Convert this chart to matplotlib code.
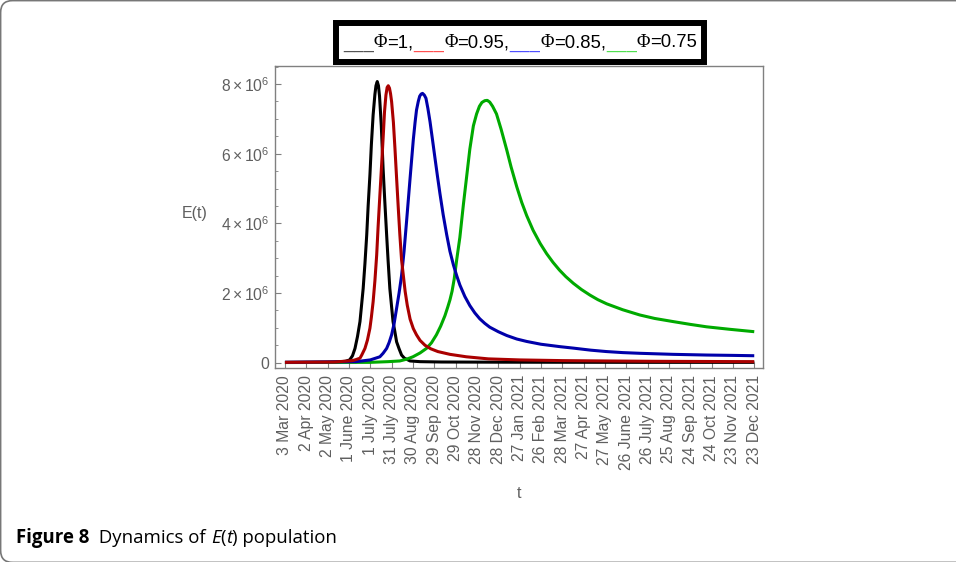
import matplotlib
matplotlib.use("Agg")
import matplotlib.pyplot as plt
from matplotlib.patches import Rectangle, FancyBboxPatch
from matplotlib.offsetbox import TextArea, HPacker, AnchoredOffsetbox
from matplotlib.ticker import FixedLocator, MultipleLocator, FuncFormatter

plt.rcParams["font.family"] = ["Liberation Sans", "DejaVu Sans"]
plt.rcParams["mathtext.fontset"] = "custom"
plt.rcParams["mathtext.rm"] = "Liberation Sans"
plt.rcParams["mathtext.it"] = "Liberation Sans:italic"
plt.rcParams["mathtext.default"] = "regular"

# days since 3 Mar 2020, E(t) in millions
black_days = [0, 60, 75, 85, 91, 95, 98.5, 102, 105.5, 107.5, 110, 112.5, 115, 117, 119.5,
              121.5, 124, 126.5, 128, 129.8, 131.5, 133, 135.5, 138, 140.5, 143, 145, 147.5,
              150, 152, 154.5, 157, 160.5, 164, 168, 176, 190, 220, 300, 400, 500, 660]
black_vals = [0.01, 0.015, 0.025, 0.04, 0.08, 0.2, 0.41, 0.75, 1.18, 1.6, 2.13, 2.85, 3.67,
              4.5, 5.39, 6.25, 7.11, 7.7, 7.95, 8.07, 7.95, 7.65, 6.8, 5.58, 4.6, 3.67, 2.95,
              2.13, 1.6, 1.18, 0.9, 0.6, 0.4, 0.22, 0.13, 0.05, 0.03, 0.02, 0.015, 0.012, 0.01,
              0.01]

red_days = [0, 70, 95, 100, 105.5, 108, 112.5, 116, 119.5, 121.5, 124, 126.5, 129, 131, 133.5,
            136, 138.3, 140, 142, 143.7, 145.3, 147, 148.5, 150, 152.5, 154.7, 157, 159.4, 161.6,
            164, 166.5, 169, 172, 176, 180.5, 185, 190, 197, 205, 215, 232, 255, 286, 330, 390,
            450, 520, 590, 660]
red_vals = [0.01, 0.02, 0.06, 0.09, 0.13, 0.22, 0.41, 0.65, 0.99, 1.3, 1.75, 2.35, 3.09, 3.9,
            4.81, 5.7, 6.54, 7.2, 7.68, 7.9, 7.95, 7.88, 7.72, 7.49, 6.9, 6.15, 5.3, 4.43, 3.67,
            2.95, 2.5, 2.05, 1.65, 1.25, 0.98, 0.8, 0.64, 0.5, 0.4, 0.32, 0.24, 0.17, 0.11, 0.08,
            0.06, 0.05, 0.04, 0.035, 0.03]

blue_days = [0, 100, 120, 133.5, 138, 143, 146.5, 150, 153.5, 157, 160.5, 164, 167.5, 171, 176,
             180.5, 183, 185, 187.5, 189.5, 191.5, 193.5, 196, 198.3, 201, 204, 207.5, 211,
             214.5, 218, 222.5, 227.5, 232, 237, 241.5, 246, 253, 260, 267, 274, 281, 288, 300,
             312, 326, 340, 360, 387, 405, 430, 452, 475, 499, 546, 593, 630, 660]
blue_vals = [0.01, 0.03, 0.08, 0.17, 0.27, 0.41, 0.58, 0.8, 1.12, 1.56, 2.0, 2.5, 3.2, 4.05, 5.3,
             6.4, 6.9, 7.25, 7.5, 7.65, 7.71, 7.73, 7.68, 7.59, 7.3, 6.92, 6.4, 5.87, 5.35, 4.85,
             4.25, 3.67, 3.2, 2.8, 2.5, 2.23, 1.9, 1.64, 1.43, 1.26, 1.13, 1.02, 0.89, 0.78,
             0.68, 0.61, 0.53, 0.46, 0.42, 0.36, 0.32, 0.29, 0.27, 0.24, 0.22, 0.21, 0.20]

green_days = [0, 120, 145, 161.5, 171, 180, 190, 199, 206, 213, 219, 225, 229, 232, 235, 238,
              241.5, 246, 251, 255, 260, 265, 269.5, 273.5, 277, 281, 284.5, 288, 292, 297.5,
              304, 312, 318, 326, 333, 340, 349, 359, 368, 377, 386, 395, 405.5, 417, 429, 440,
              452.5, 475, 499, 520, 546, 570, 593, 625, 660]
green_vals = [0.005, 0.01, 0.03, 0.05, 0.1, 0.17, 0.28, 0.41, 0.57, 0.8, 1.05, 1.35, 1.6, 1.8,
              2.05, 2.4, 2.95, 3.6, 4.55, 5.25, 6.13, 6.8, 7.14, 7.36, 7.47, 7.52, 7.53, 7.48,
              7.36, 7.14, 6.7, 6.1, 5.62, 5.05, 4.6, 4.22, 3.8, 3.42, 3.13, 2.88, 2.66, 2.47,
              2.28, 2.1, 1.94, 1.81, 1.69, 1.52, 1.37, 1.27, 1.18, 1.1, 1.03, 0.96, 0.89]

tick_days = list(range(0, 661, 30))
tick_labels = ["3 Mar 2020", "2 Apr 2020", "2 May 2020", "1 June 2020", "1 July 2020",
               "31 July 2020", "30 Aug 2020", "29 Sep 2020", "29 Oct 2020", "28 Nov 2020",
               "28 Dec 2020", "27 Jan 2021", "26 Feb 2021", "28 Mar 2021", "27 Apr 2021",
               "27 May 2021", "26 June 2021", "26 July 2021", "25 Aug 2021", "24 Sep 2021",
               "24 Oct 2021", "23 Nov 2021", "23 Dec 2021"]

legend_labels = ["=1", "=0.95", "=0.85", "=0.75"]
legend_colors = ["#555555", "#ff5050", "#5050ff", "#50e050"]

SCALE = 1e6
W, H = 956, 562
GRAY = "#808080"
TXT = "#5f5f5f"

fig = plt.figure(figsize=(W / 100, H / 100), dpi=100)
ax = fig.add_axes([275 / W, 1 - 368 / H, 488 / W, 302 / H])

series = [(black_days, black_vals, "black", 3),
          (green_days, green_vals, "#00aa00", 3),
          (blue_days, blue_vals, "#0000aa", 3),
          (red_days, red_vals, "#aa0000", 4)]
for d, v, c, z in series:
    ax.plot(d, [x * SCALE for x in v], color=c, lw=2.2, zorder=z,
            solid_joinstyle="round", solid_capstyle="butt")

ax.set_xlim(-14, 672.3)
ax.set_ylim(-0.152 * SCALE, 8.516 * SCALE)

ax.xaxis.set_major_locator(FixedLocator(tick_days))
ax.set_xticklabels(tick_labels, rotation=90, va="top", ha="center")
ax.yaxis.set_major_locator(MultipleLocator(2 * SCALE))
ax.yaxis.set_minor_locator(MultipleLocator(0.5 * SCALE))


def sci(v, pos):
    if abs(v) < 1:
        return "0"
    return r"$%d\times10^{6}$" % round(v / SCALE)


ax.yaxis.set_major_formatter(FuncFormatter(sci))

for s in ax.spines.values():
    s.set_color(GRAY)
    s.set_linewidth(1.0)
ax.tick_params(which="both", direction="in", color=GRAY, labelcolor=TXT,
               labelsize=11.3, top=False, right=False)
ax.tick_params(which="major", length=4.5, width=0.8)
ax.tick_params(which="minor", length=2.5, width=0.6)
ax.tick_params(axis="x", pad=5)
ax.tick_params(axis="y", pad=4)

ax.set_xlabel("t", color=TXT, fontsize=11.5)
ax.xaxis.set_label_coords(0.5, -0.39)
ax.set_ylabel("E(t)", color=TXT, fontsize=11.5, rotation=0, va="center", ha="center")
ax.yaxis.set_label_coords(-0.164, 0.51)


def piece(s, color="black", family="Liberation Sans", size=13.3, weight="normal", style="normal"):
    return TextArea(s, textprops=dict(color=color, family=family, size=size,
                                      weight=weight, style=style))


# legend box on top
fig.add_artist(Rectangle((336 / W, 1 - 62 / H), 368 / W, 39 / H, transform=fig.transFigure,
                         facecolor="white", edgecolor="black", lw=4.3))
kids = []
for i, (lab, col) in enumerate(zip(legend_labels, legend_colors)):
    kids.append(piece("___", color=col))
    kids.append(piece("Φ", family="Liberation Serif"))
    kids.append(piece(lab + ("," if i < len(legend_labels) - 1 else "")))
fig.add_artist(AnchoredOffsetbox(loc="center", child=HPacker(children=kids, pad=0, sep=0, align="baseline"),
                                 pad=0, borderpad=0, frameon=False,
                                 bbox_to_anchor=(520 / W, 1 - 43 / H),
                                 bbox_transform=fig.transFigure))

# caption
CAP = 13.4
cap = [piece("Figure 8", family="Open Sans", size=CAP, weight="bold"),
       piece("  Dynamics of ", family="Open Sans", size=CAP),
       piece("E", family="Open Sans", size=CAP, style="italic"),
       piece("(", family="Open Sans", size=CAP),
       piece("t", family="Open Sans", size=CAP, style="italic"),
       piece(") population", family="Open Sans", size=CAP)]
fig.add_artist(AnchoredOffsetbox(loc="center left", child=HPacker(children=cap, pad=0, sep=0, align="baseline"),
                                 pad=0, borderpad=0, frameon=False,
                                 bbox_to_anchor=(16 / W, 1 - 538 / H),
                                 bbox_transform=fig.transFigure))

# rounded page border (only the left and top edges fall inside the image)
fig.add_artist(FancyBboxPatch((0.006, -0.004), 10.2, 5.618, boxstyle="round,pad=0,rounding_size=0.12",
                              transform=fig.dpi_scale_trans, facecolor="none",
                              edgecolor="#777777", lw=1.2))

fig.savefig("out.png", dpi=100)
